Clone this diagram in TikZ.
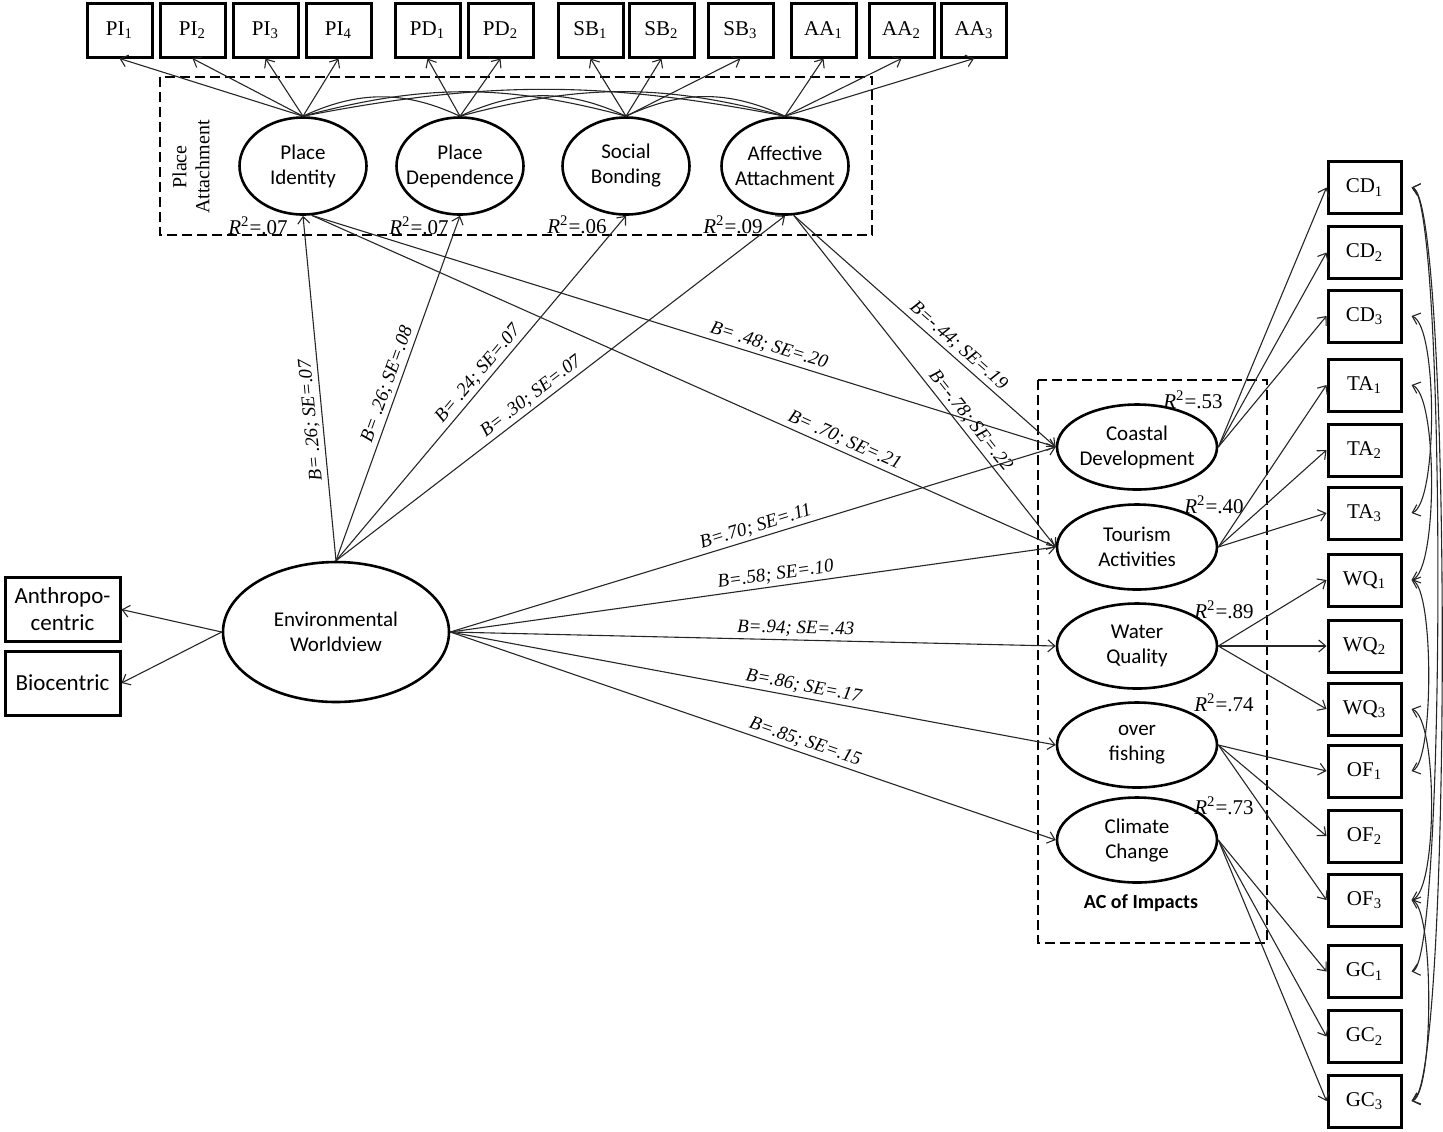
\documentclass[tikz,border=0pt]{standalone}
\usepackage{fontspec}
\setmainfont{Liberation Serif}
\newfontfamily\calib{Carlito}
\usetikzlibrary{arrows.meta,shapes.geometric}
\begin{document}
\begin{tikzpicture}[x=0.5pt,y=0.5pt,
  conn/.style={line width=0.55pt, draw=black!85, -{Straight Barb[length=3.5pt,width=6pt]}},
  cov/.style={line width=0.55pt, draw=black!85, {Straight Barb[length=3.5pt,width=6pt]}-{Straight Barb[length=3.5pt,width=6pt]}},
  covarc/.style={line width=0.55pt, draw=black!85},
  topbox/.style={draw, line width=1.5pt, minimum width=32.5pt, minimum height=27pt, inner sep=0pt, font=\fontsize{10.5}{12}\selectfont},
  rbox/.style={draw, line width=1.5pt, minimum width=36.5pt, minimum height=26pt, inner sep=0pt, font=\fontsize{10.5}{12}\selectfont},
  lbox/.style={draw, line width=1.5pt, minimum width=57.5pt, minimum height=32pt, inner sep=0pt, align=center, font=\calib\fontsize{11.5}{13.5}\selectfont},
  lat/.style={draw, ellipse, line width=1.3pt, inner sep=0pt, minimum width=63.5pt, minimum height=48.5pt},
  imp/.style={draw, ellipse, line width=1.3pt, inner sep=0pt, minimum width=80pt, minimum height=42.5pt},
  ltxt/.style={align=center, font=\calib\fontsize{10.5}{12.5}\selectfont},
  rsq/.style={font=\fontsize{10.5}{12}\selectfont, inner sep=0pt},
  coef/.style={font=\itshape\fontsize{9.5}{11}\selectfont, sloped, above, inner sep=1.5pt},
  groupbox/.style={draw, line width=1.2pt, dash pattern=on 5pt off 2.5pt}
]
\useasboundingbox (0,0) rectangle (1443,-1131);

% group boxes
\draw[groupbox] (160,-77) rectangle (872,-235);
\draw[groupbox] (1038,-380) rectangle (1267,-943);
\node[rotate=90, align=center, font=\fontsize{10}{11.5}\selectfont] (patt) at (191,-167) {Place\\Attachment};
\node[font=\calib\bfseries\fontsize{10}{12}\selectfont] (aclab) at (1141,-903) {AC of Impacts};

% top indicators
\node[topbox] (PI1) at (119.5,-30) {PI\textsubscript{1}};
\node[topbox] (PI2) at (192.5,-30) {PI\textsubscript{2}};
\node[topbox] (PI3) at (265.5,-30) {PI\textsubscript{3}};
\node[topbox] (PI4) at (338.5,-30) {PI\textsubscript{4}};
\node[topbox] (PD1) at (427.5,-30) {PD\textsubscript{1}};
\node[topbox] (PD2) at (500.5,-30) {PD\textsubscript{2}};
\node[topbox] (SB1) at (590.5,-30) {SB\textsubscript{1}};
\node[topbox] (SB2) at (661.5,-30) {SB\textsubscript{2}};
\node[topbox] (SB3) at (740.5,-30) {SB\textsubscript{3}};
\node[topbox] (AA1) at (823.5,-30) {AA\textsubscript{1}};
\node[topbox] (AA2) at (901.5,-30) {AA\textsubscript{2}};
\node[topbox] (AA3) at (974,-30) {AA\textsubscript{3}};

% place attachment latents
\node[lat, label={[ltxt]center:Place\\Identity}] (PI) at (303,-166) {};
\node[lat, label={[ltxt]center:Place\\Dependence}] (PD) at (460,-166) {};
\node[lat, label={[ltxt]center:Social\\Bonding}] (SB) at (626,-166) {};
\node[lat, label={[ltxt]center:Affective\\Attachment}] (AA) at (785,-166) {};

\node[rsq] (r1) at (258,-226) {\textit{R}\textsuperscript{2}=.07};
\node[rsq] (r2) at (419,-226) {\textit{R}\textsuperscript{2}=.07};
\node[rsq] (r3) at (577,-225) {\textit{R}\textsuperscript{2}=.06};
\node[rsq] (r4) at (733,-225) {\textit{R}\textsuperscript{2}=.09};

% worldview
\node[lat, minimum width=113pt, minimum height=70pt, label={[ltxt]center:Environmental\\Worldview}] (EW) at (336,-632) {};
\node[lbox] (AN) at (62.5,-609.5) {Anthropo-\\centric};
\node[lbox] (BI) at (62.5,-683) {Biocentric};

% impacts
\node[imp, label={[ltxt]center:Coastal\\Development}] (CD) at (1137,-447) {};
\node[imp, label={[ltxt]center:Tourism\\Activities}] (TA) at (1137,-547) {};
\node[imp, label={[ltxt]center:Water\\Quality}] (WQ) at (1137,-646) {};
\node[imp, label={[ltxt]center:over\\fishing}] (OF) at (1137,-745) {};
\node[imp, label={[ltxt]center:Climate\\Change}] (CC) at (1137,-840) {};

\node[rsq] (r5) at (1193,-400) {\textit{R}\textsuperscript{2}=.53};
\node[rsq] (r6) at (1214,-505) {\textit{R}\textsuperscript{2}=.40};
\node[rsq] (r7) at (1224,-610) {\textit{R}\textsuperscript{2}=.89};
\node[rsq] (r8) at (1224,-703) {\textit{R}\textsuperscript{2}=.74};
\node[rsq] (r9) at (1224,-806) {\textit{R}\textsuperscript{2}=.73};

% right indicators
\node[rbox] (CD1) at (1364.5,-187.5) {CD\textsubscript{1}};
\node[rbox] (CD2) at (1364.5,-252.5) {CD\textsubscript{2}};
\node[rbox] (CD3) at (1364.5,-316) {CD\textsubscript{3}};
\node[rbox] (TA1) at (1364.5,-385) {TA\textsubscript{1}};
\node[rbox] (TA2) at (1364.5,-450) {TA\textsubscript{2}};
\node[rbox] (TA3) at (1364.5,-513) {TA\textsubscript{3}};
\node[rbox] (WQ1) at (1364.5,-580) {WQ\textsubscript{1}};
\node[rbox] (WQ2) at (1364.5,-646) {WQ\textsubscript{2}};
\node[rbox] (WQ3) at (1364.5,-709) {WQ\textsubscript{3}};
\node[rbox] (OF1) at (1364.5,-771) {OF\textsubscript{1}};
\node[rbox] (OF2) at (1364.5,-836) {OF\textsubscript{2}};
\node[rbox] (OF3) at (1364.5,-900) {OF\textsubscript{3}};
\node[rbox] (GC1) at (1364.5,-971.5) {GC\textsubscript{1}};
\node[rbox] (GC2) at (1364.5,-1036.5) {GC\textsubscript{2}};
\node[rbox] (GC3) at (1364.5,-1101) {GC\textsubscript{3}};

% loadings top
\foreach \b in {PI1,PI2,PI3,PI4} \draw[conn] (PI.north) -- (\b.south);
\foreach \b in {PD1,PD2} \draw[conn] (PD.north) -- (\b.south);
\foreach \b in {SB1,SB2,SB3} \draw[conn] (SB.north) -- (\b.south);
\foreach \b in {AA1,AA2,AA3} \draw[conn] (AA.north) -- (\b.south);

% covariances among place attachment factors
\draw[covarc] (PI.north) to[bend left=25] (PD.north);
\draw[covarc] (PI.north) to[bend left=15] (SB.north);
\draw[covarc] (PI.north) to[bend left=11] (AA.north);
\draw[covarc] (PD.north) to[bend left=25] (SB.north);
\draw[covarc] (PD.north) to[bend left=15] (AA.north);
\draw[covarc] (SB.north) to[bend left=25] (AA.north);

% loadings right
\foreach \b in {CD1,CD2,CD3} \draw[conn] (CD.east) -- (\b.west);
\foreach \b in {TA1,TA2,TA3} \draw[conn] (TA.east) -- (\b.west);
\foreach \b in {WQ1,WQ2,WQ3} \draw[conn] (WQ.east) -- (\b.west);
\foreach \b in {OF1,OF2,OF3} \draw[conn] (OF.east) -- (\b.west);
\foreach \b in {GC1,GC2,GC3} \draw[conn] (CC.east) -- (\b.west);

% worldview indicators
\draw[conn] (EW.west) -- (AN.east);
\draw[conn] (EW.west) -- (BI.east);

% structural paths
\draw[conn] (EW.north) -- node[coef,pos=0.41,allow upside down] (c1) {B= .26; SE=.07} (PI.south);
\draw[conn] (EW.north) -- node[coef,pos=0.50] (c2) {B= .26; SE=.08} (PD.south);
\draw[conn] (EW.north) -- node[coef,pos=0.52] (c3) {B= .24; SE=.07} (SB.south);
\draw[conn] (EW.north) -- node[coef,pos=0.45] (c4) {B= .30; SE=.07} (AA.south);
\draw[conn] (PI.-80) -- node[coef,pos=0.61] (c5) {B= .48; SE=.20} (CD.west);
\draw[conn] (PI.-80) -- node[coef,pos=0.71] (c6) {B= .70; SE=.21} (TA.west);
\draw[conn] (AA.-80) -- node[coef,pos=0.60] (c7) {B=-.44; SE=.19} (CD.west);
\draw[conn] (AA.-80) -- node[coef,pos=0.64] (c8) {B=-.78; SE=.22} (TA.west);
\draw[conn] (EW.east) -- node[coef,pos=0.51] (c9) {B=.70; SE=.11} (CD.west);
\draw[conn] (EW.east) -- node[coef,pos=0.54] (c10) {B=.58; SE=.10} (TA.west);
\draw[conn] (EW.east) -- node[coef,pos=0.57] (c11) {B=.94; SE=.43} (WQ.west);
\draw[conn] (EW.east) -- node[coef,pos=0.58] (c12) {B=.86; SE=.17} (OF.west);
\draw[conn] (EW.east) -- node[coef,pos=0.58] (c13) {B=.85; SE=.15} (CC.west);

% error covariances on the right
\draw[cov] ([xshift=4.5pt]CD1.east) to[out=-15,in=15,distance=21pt] ([xshift=4.5pt]GC3.east);
\draw[cov] ([xshift=4.5pt]CD1.east) to[out=-15,in=15,distance=18pt] ([xshift=4.5pt]GC1.east);
\draw[cov] ([xshift=4.5pt]CD3.east) to[out=-20,in=20,distance=14pt] ([xshift=4.5pt]TA3.east);
\draw[cov] ([xshift=4.5pt]TA1.east) to[out=-20,in=20,distance=14pt] ([xshift=4.5pt]WQ1.east);
\draw[cov] ([xshift=4.5pt]WQ1.east) to[out=-20,in=20,distance=12pt] ([xshift=4.5pt]OF1.east);
\draw[cov] ([xshift=4.5pt]WQ3.east) to[out=-20,in=20,distance=14pt] ([xshift=4.5pt]OF3.east);
\draw[cov] ([xshift=4.5pt]OF3.east) to[out=-20,in=20,distance=12pt] ([xshift=4.5pt]GC3.east);
\end{tikzpicture}
\end{document}
